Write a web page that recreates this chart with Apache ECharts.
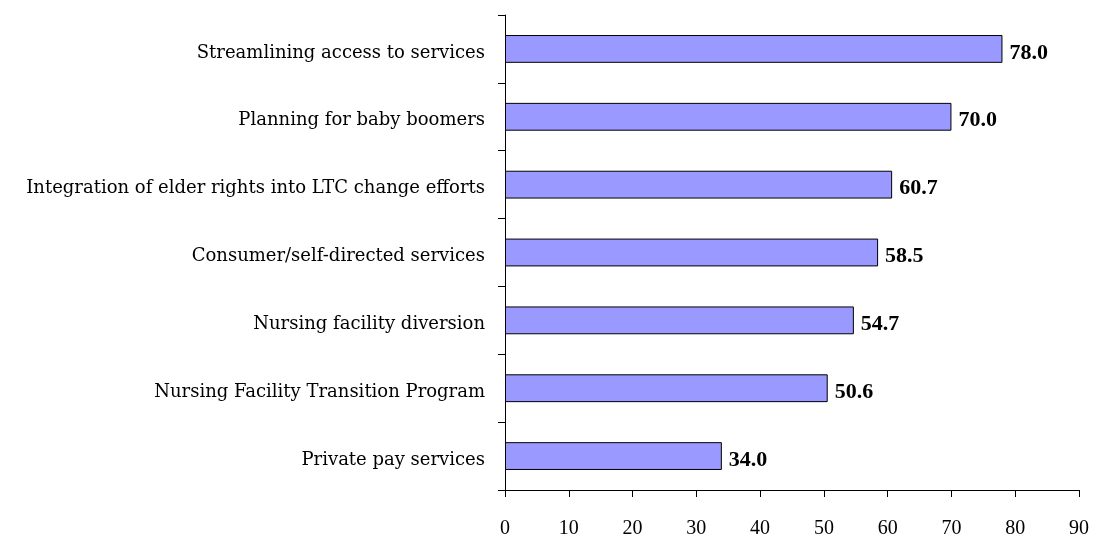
<!DOCTYPE html>
<html>
<head>
<meta charset="utf-8">
<script src="https://cdn.jsdelivr.net/npm/echarts@6/dist/echarts.min.js"></script>
<style>
  html, body { margin: 0; padding: 0; background: #fff; }
  #chart { width: 1094px; height: 542px; }
</style>
</head>
<body>
<div id="chart"></div>
<script>
// categories listed bottom to top
const categories = [
  'Private pay services',
  'Nursing Facility Transition Program',
  'Nursing facility diversion',
  'Consumer/self-directed services',
  'Integration of elder rights into LTC change efforts',
  'Planning for baby boomers',
  'Streamlining access to services'
];
const values = [34.0, 50.6, 54.7, 58.5, 60.7, 70.0, 78.0];

const serif = '"Liberation Serif", "DejaVu Serif", serif';
const wideSerif = '"DejaVu Serif", "Liberation Serif", serif';
const chart = echarts.init(document.getElementById('chart'));

chart.setOption({
  animation: false,
  grid: { left: 505, right: 15, top: 15, bottom: 52 },
  xAxis: {
    type: 'value',
    min: 0,
    max: 90,
    interval: 10,
    splitLine: { show: false },
    axisLine: { show: true, lineStyle: { color: '#000', width: 1 } },
    axisTick: { show: true, length: 7, lineStyle: { color: '#000' } },
    axisLabel: { color: '#000', fontFamily: serif, fontSize: 20, margin: 29 }
  },
  yAxis: {
    type: 'category',
    data: categories,
    axisLine: { show: true, lineStyle: { color: '#000', width: 1 } },
    axisTick: { show: true, length: 7, lineStyle: { color: '#000' } },
    axisLabel: {
      margin: 20,
      formatter: v => '{c|' + v + '}',
      rich: {
        c: { color: '#000', fontFamily: wideSerif, fontSize: 18, padding: [8, 0, 0, 0] }
      }
    }
  },
  series: [{
    type: 'bar',
    data: values,
    barCategoryGap: '59%',
    itemStyle: { color: '#9999ff', borderColor: '#000', borderWidth: 1 },
    label: {
      show: true,
      position: 'right',
      distance: 7,
      color: '#000',
      fontFamily: serif,
      fontWeight: 'bold',
      fontSize: 22,
      formatter: p => p.value.toFixed(1),
      offset: [0, 4]
    }
  }]
});
</script>
</body>
</html>
